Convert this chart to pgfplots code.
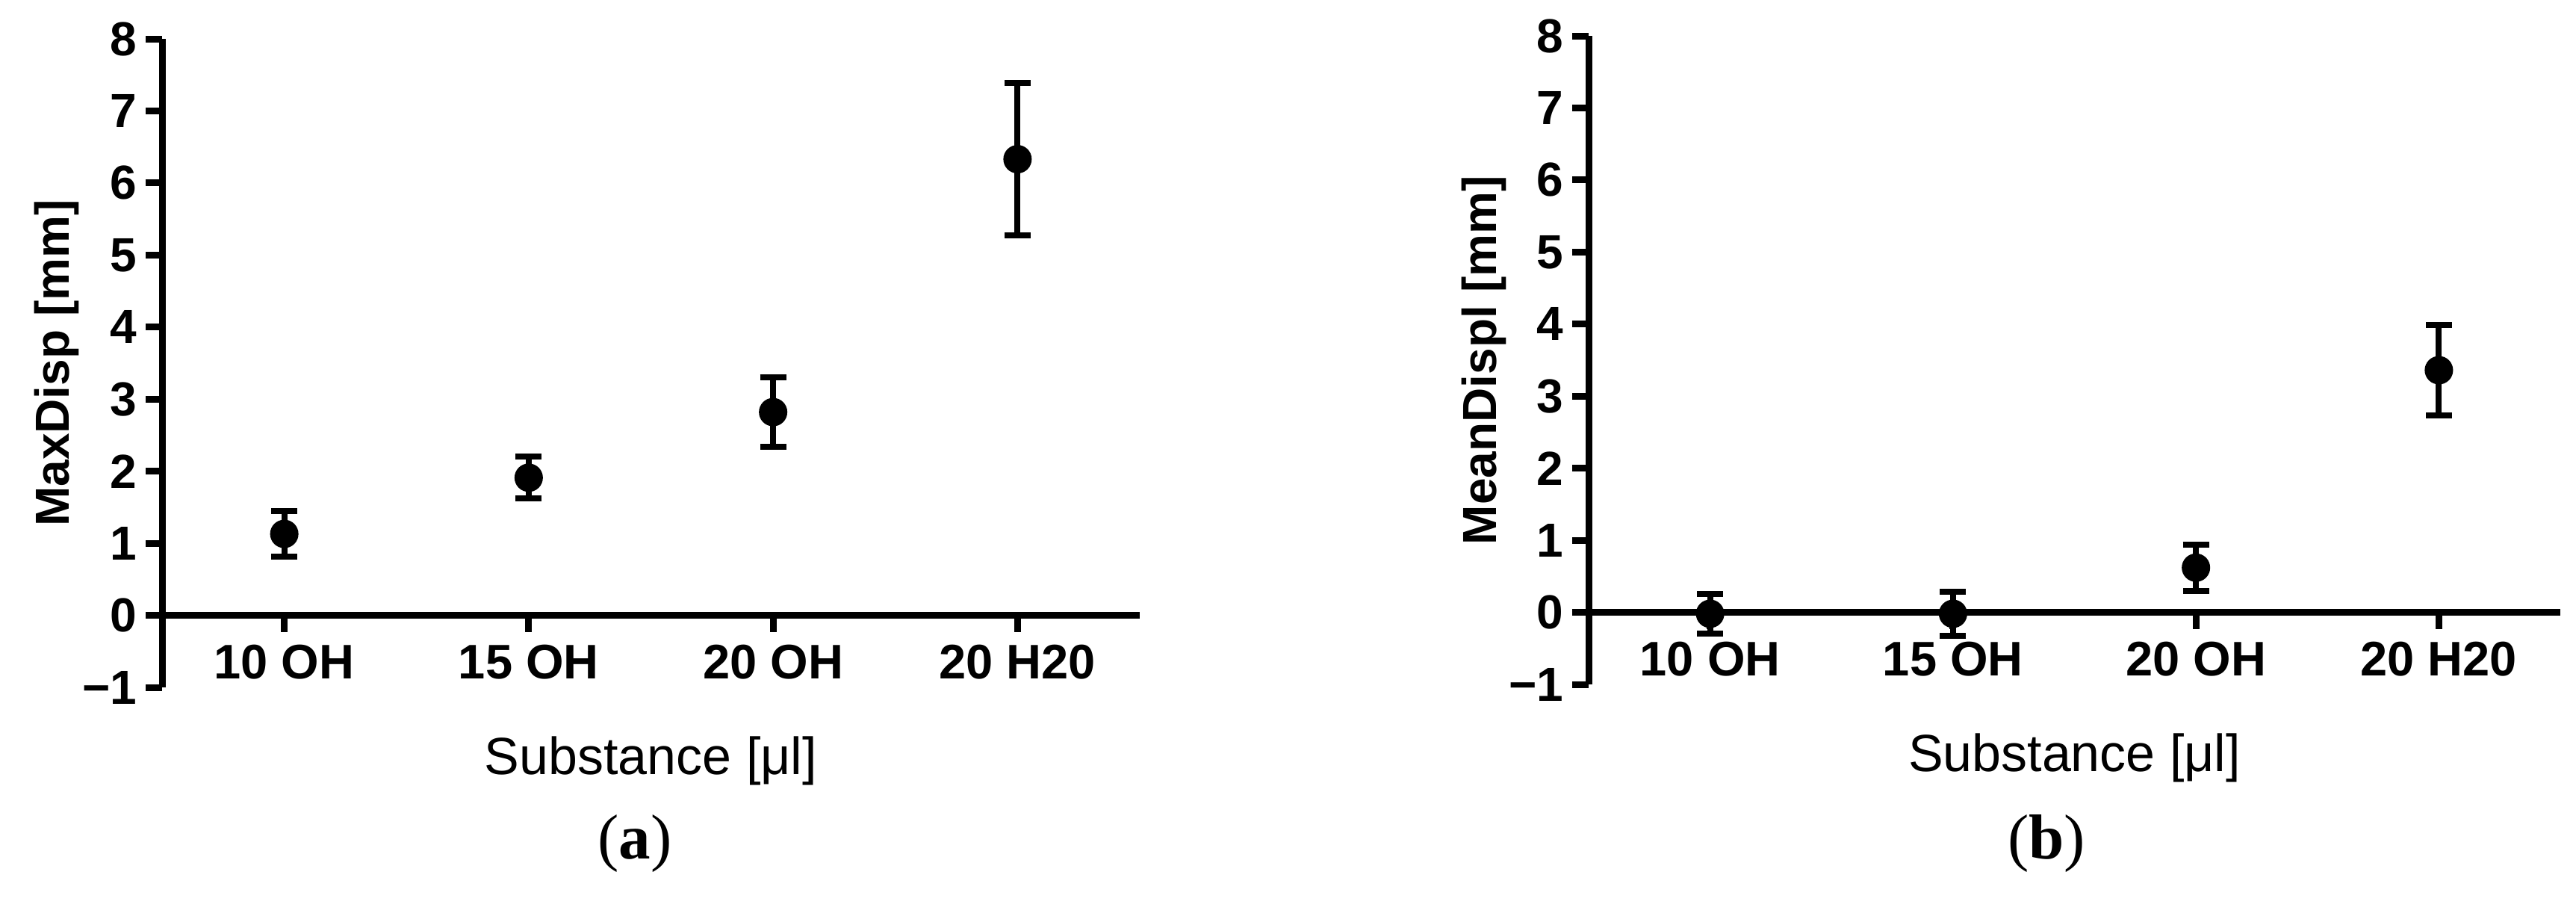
\documentclass[border=0pt]{standalone}
\usepackage{pgfplots}
\pgfplotsset{compat=1.18}
\usepackage{fontspec}
\setmainfont{Liberation Sans}
\newfontfamily\capfont{Liberation Serif}

% 1 px of the reference = 0.2pt
\pgfplotsset{
  dispax/.style={
    scale only axis, width=261.8pt, height=173.6pt,
    xmin=-0.5, xmax=3.5, ymin=-1, ymax=8,
    axis y line=left, axis x line=middle,
    axis line style={-, line width=1.8pt, black},
    tick style={line width=1.8pt, black},
    tick align=outside, major tick length=4.4pt,
    xtick={0,1,2,3}, xticklabels={10 OH,15 OH,20 OH,20 H20},
    ytick={-1,0,...,8}, yticklabels={−1,0,1,2,3,4,5,6,7,8},
    xticklabel style={font=\bfseries\fontsize{13}{13}\selectfont},
    yticklabel style={font=\bfseries\fontsize{12.8}{12.8}\selectfont, xshift=1.2pt},
    every axis x label/.style={at={(axis description cs:0.5,0)}, anchor=center,
      yshift=-19.7pt, font=\fontsize{14}{14}\selectfont},
    every axis y label/.style={at={(axis description cs:-0.108,0.5)}, anchor=center,
      rotate=90, font=\bfseries\fontsize{12.8}{12.8}\selectfont},
    clip=false,
  },
  dots/.style={only marks, mark=*, mark size=3.6pt, black,
    mark options={draw=black, fill=black},
    error bars/.cd, y dir=both, y explicit,
    error bar style={line width=1.6pt, black},
    error mark options={rotate=90, mark size=3.5pt, line width=1.6pt, black}},
}

\begin{document}
\begin{tikzpicture}
\useasboundingbox (0,0) rectangle (689.8pt,246.6pt);

\begin{axis}[dispax, at={(43.4pt,62.6pt)}, anchor=south west,
  xlabel={Substance [μl]}, ylabel={MaxDisp [mm]}]
  \addplot[dots] coordinates {
    (0,1.13) +- (0,0.32)
    (1,1.91) +- (0,0.29)
    (2,2.82) +- (0,0.48)
    (3,6.33) +- (0,1.06)
  };
\end{axis}

\begin{axis}[dispax, at={(425.4pt,63.4pt)}, anchor=south west, width=260.2pt,
  xlabel={Substance [μl]}, ylabel={MeanDispl [mm]}]
  \addplot[dots] coordinates {
    (0,-0.02) +- (0,0.27)
    (1,-0.02) +- (0,0.31)
    (2,0.62) +- (0,0.32)
    (3,3.36) +- (0,0.63)
  };
\end{axis}

\node[font=\capfont\fontsize{17}{17}\selectfont] at (170pt,20.8pt) {(\textbf{a})};
\node[font=\capfont\fontsize{17}{17}\selectfont] at (548pt,20.8pt) {(\textbf{b})};
\end{tikzpicture}
\end{document}
